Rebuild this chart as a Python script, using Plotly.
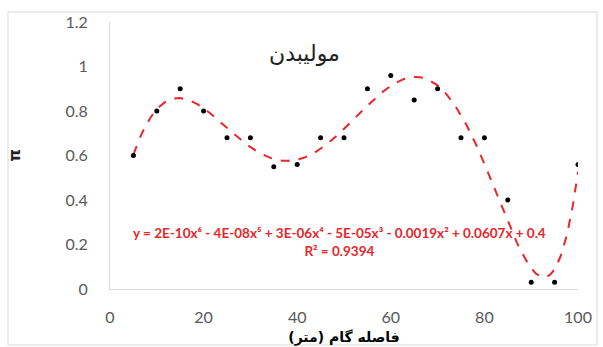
import numpy as np
import plotly.graph_objects as go

# Measured pi values along the traverse (step distance in metres)
distance_m = [5, 10, 15, 20, 25, 30, 35, 40, 45, 50,
              55, 60, 65, 70, 75, 80, 85, 90, 95, 100]
pi_values = [0.60, 0.80, 0.90, 0.80, 0.68, 0.68, 0.55, 0.56, 0.68, 0.68,
             0.90, 0.96, 0.85, 0.90, 0.68, 0.68, 0.40, 0.03, 0.03, 0.56]

title_text = "مولیبدن"
x_title = "فاصله گام (متر)"
y_title = "π"
equation_text = ("y = 2E-10x⁶ - 4E-08x⁵ + 3E-06x⁴ - 5E-05x³ - 0.0019x² + 0.0607x + 0.4"
                 "<br>R² = 0.9394")

x_ticks = [0, 20, 40, 60, 80, 100]
y_ticks = [0, 0.2, 0.4, 0.6, 0.8, 1.0, 1.2]
y_tick_text = ["0", "0.2", "0.4", "0.6", "0.8", "1", "1.2"]

# Sixth-order polynomial trendline fitted to the measurements
poly = np.polynomial.Polynomial.fit(distance_m, pi_values, 6)
xs = np.linspace(min(distance_m), max(distance_m), 300)
ys = poly(xs)

fig = go.Figure()
fig.add_trace(go.Scatter(
    x=xs, y=ys, mode="lines",
    line=dict(color="#e8262b", width=2, dash="dash"),
    hoverinfo="skip", showlegend=False))
fig.add_trace(go.Scatter(
    x=distance_m, y=pi_values, mode="markers",
    marker=dict(color="black", size=5),
    showlegend=False))

tick_font = dict(family="Lato, Open Sans, sans-serif", size=16, color="#595959")

fig.update_layout(
    width=603, height=347,
    margin=dict(l=110, r=25, t=22, b=58),
    paper_bgcolor="white", plot_bgcolor="white",
    xaxis=dict(range=[0, 100], tickvals=x_ticks, showgrid=False, zeroline=False,
               showline=True, linecolor="#d9d9d9", linewidth=1, automargin=False,
               ticks="", ticklabelstandoff=14, tickfont=tick_font,
               title=dict(text="<b>" + x_title + "</b>", standoff=6,
                          font=dict(family="DejaVu Sans", size=14, color="black"))),
    yaxis=dict(range=[0, 1.2], tickvals=y_ticks, ticktext=y_tick_text,
               showgrid=False, zeroline=False, automargin=False,
               showline=True, linecolor="#d9d9d9", linewidth=1,
               ticks="", ticklabelstandoff=18, tickfont=tick_font,
               title=dict(text="<b>" + y_title + "</b>", standoff=40,
                          font=dict(family="DejaVu Sans", size=16, color="#222222"))),
    annotations=[
        dict(text=title_text, xref="paper", yref="paper", x=0.415, y=0.935,
             showarrow=False, font=dict(family="DejaVu Sans", size=22, color="#222222")),
        dict(text="<b>" + equation_text + "</b>", xref="paper", yref="paper",
             x=0.49, y=0.105, showarrow=False, align="center",
             font=dict(family="Lato, Open Sans, sans-serif", size=13.5, color="#e8262b")),
    ],
    shapes=[
        dict(type="rect", xref="paper", yref="paper",
             x0=-102 / 468, x1=1 + 19 / 468, y0=-56 / 267, y1=1 + 10 / 267,
             line=dict(color="#d9d9d9", width=1), fillcolor="rgba(0,0,0,0)", layer="below"),
    ],
)

fig.write_html("out.html")
